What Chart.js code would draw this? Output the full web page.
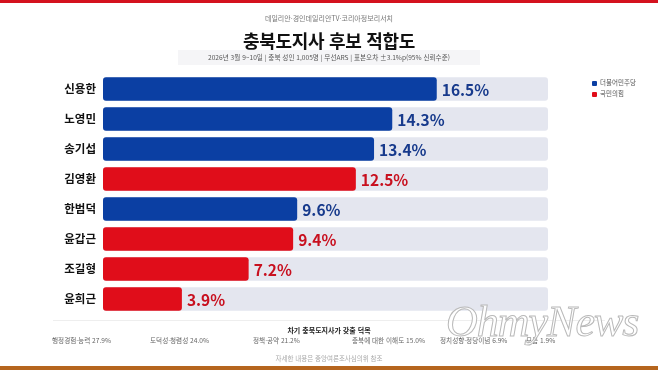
<!DOCTYPE html>
<html lang="ko">
<head>
<meta charset="utf-8">
<script src="https://cdn.jsdelivr.net/npm/chart.js@4"></script>
<style>
  html, body { margin:0; padding:0; background:#fff; }
  body { width:658px; height:370px; position:relative; overflow:hidden; font-family:"Noto Sans CJK KR","Noto Sans",sans-serif; }
  #c { position:absolute; left:0; top:0; }
  .t { position:absolute; white-space:nowrap; }
  #topbar { position:absolute; left:0; top:0; width:658px; height:3px; background:#d4121e; }
  #botbar { position:absolute; left:0; top:366px; width:658px; height:4px; background:#b5651e; }
  #source { left:0; width:658px; top:13px; text-align:center; font-size:7px; color:#777; }
  #title { left:0; width:658px; top:27px; text-align:center; font-size:18px; font-weight:700; color:#111; letter-spacing:-0.3px; }
  #subbox { left:178px; top:50px; width:302px; height:15px; background:#f5f5f7; }
  #sub { left:178px; width:302px; top:52px; text-align:center; font-size:6.6px; color:#555; }
  #legend { left:592px; top:77px; font-size:6.5px; color:#555; line-height:11px; }
  #legend span.sq { display:inline-block; width:5px; height:5px; margin-right:3px; vertical-align:-0.5px; border-radius:1px; }
  #rule { position:absolute; left:53px; top:320px; width:552px; height:1px; background:#eee; }
  #vtitle { left:0; width:658px; top:325px; text-align:center; font-size:7px; font-weight:700; color:#222; }
  .vi { top:335px; font-size:6.6px; color:#666; }
  #foot { left:0; width:658px; top:353px; text-align:center; font-size:6.5px; color:#aaa; }
  #wm { left:446px; top:296px; font-family:"Liberation Serif",serif; font-style:italic; font-size:44px; color:rgba(255,255,255,0.85); -webkit-text-stroke:1px #b9b9b9; letter-spacing:-1px; }
</style>
</head>
<body>
<div id="topbar"></div>
<div id="botbar"></div>
<canvas id="c" width="658" height="370"></canvas>
<div class="t" id="source">데일리안·경인데일리안TV·코리아정보리서치</div>
<div class="t" id="title">충북도지사 후보 적합도</div>
<div class="t" id="subbox"></div>
<div class="t" id="sub">2026년 3월 9~10일 | 충북 성인 1,005명 | 무선ARS | 표본오차 ±3.1%p(95% 신뢰수준)</div>
<div class="t" id="legend"></div>
<div id="rule"></div>
<div class="t" id="vtitle">차기 충북도지사가 갖출 덕목</div>
<div id="virtues"></div>
<div class="t" id="foot">자세한 내용은 중앙여론조사심의위 참조</div>
<div class="t" id="wm">OhmyNews</div>
<script>
// ---- data ----
const candidates = ['신용한','노영민','송기섭','김영환','한범덕','윤갑근','조길형','윤희근'];
const support = [16.5, 14.3, 13.4, 12.5, 9.6, 9.4, 7.2, 3.9];
const candidateParty = [0, 0, 0, 1, 0, 1, 1, 1];
const partyNames = ['더불어민주당', '국민의힘'];
const axisMax = 22;
const virtueLabels = ['행정경험·능력','도덕성·청렴성','정책·공약','충북에 대한 이해도','정치성향·정당이념','모름'];
const virtueValues = [27.9, 24.0, 21.2, 15.0, 6.9, 1.9];

// ---- styles ----
const barColors = ['#0b3fa3', '#e00d1a'];
const textColors = ['#173a8c', '#c8101f'];
const trackColor = '#e4e6ef';
const virtueX = [52, 150, 253, 352, 440, 526];

// legend
const lg = document.getElementById('legend');
partyNames.forEach((n, i) => {
  const d = document.createElement('div');
  d.innerHTML = '<span class="sq" style="background:' + barColors[i] + '"></span>' + n;
  lg.appendChild(d);
});
// virtues
const vw = document.getElementById('virtues');
virtueLabels.forEach((l, i) => {
  const d = document.createElement('div');
  d.className = 't vi';
  d.style.left = virtueX[i] + 'px';
  d.textContent = l + ' ' + virtueValues[i].toFixed(1) + '%';
  vw.appendChild(d);
});

const partyData = partyNames.map((_, p) => support.map((v, i) => candidateParty[i] === p ? v : null));

const valueLabels = {
  id: 'valueLabels',
  afterDatasetsDraw(chart) {
    const ctx = chart.ctx;
    ctx.save();
    ctx.font = 'bold 15.5px "Noto Sans CJK KR", "Noto Sans", sans-serif';
    ctx.textBaseline = 'middle';
    ctx.textAlign = 'left';
    partyNames.forEach((_, p) => {
      const meta = chart.getDatasetMeta(p + 1);
      meta.data.forEach((el, i) => {
        const v = partyData[p][i];
        if (v == null) return;
        ctx.fillStyle = textColors[p];
        ctx.fillText(v.toFixed(1) + '%', el.x + 5, el.y + 1);
      });
    });
    ctx.restore();
  }
};

new Chart(document.getElementById('c'), {
  type: 'bar',
  data: {
    labels: candidates,
    datasets: [
      { label: 'track', data: candidates.map(() => axisMax), backgroundColor: trackColor, grouped: false, order: 3 },
      ...partyNames.map((n, p) => ({ label: n, data: partyData[p], backgroundColor: barColors[p], grouped: false, order: 1 }))
    ]
  },
  options: {
    indexAxis: 'y',
    responsive: false,
    devicePixelRatio: 1,
    animation: false,
    datasets: { bar: { barPercentage: 0.78, categoryPercentage: 1.0, borderRadius: 3, borderSkipped: false } },
    layout: { padding: { left: 0, right: 110, top: 74, bottom: 56 } },
    plugins: { legend: { display: false }, tooltip: { enabled: false } },
    scales: {
      x: { display: false, min: 0, max: axisMax },
      y: {
        grid: { display: false, drawTicks: false },
        border: { display: false },
        ticks: { color: '#111', padding: 7, font: { family: '"Noto Sans CJK KR"', size: 11.5, weight: 'bold' } },
        afterFit(scale) { scale.width = 103; }
      }
    }
  },
  plugins: [valueLabels]
});
</script>
</body>
</html>
